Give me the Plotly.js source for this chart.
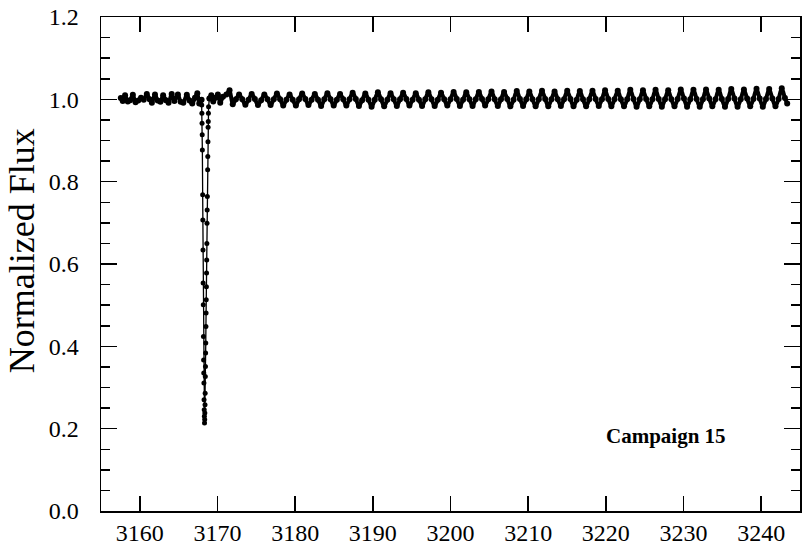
<!DOCTYPE html>
<html>
<head>
<meta charset="utf-8">
<script src="https://cdn.plot.ly/plotly-3.0.1.min.js"></script>
<style>html,body{margin:0;padding:0;background:#fff;}#chart{width:806px;height:546px;}</style>
</head>
<body>
<div id="chart"></div>
<script>
// Pre-eclipse segment (days) and normalized flux
const preTime = [3157.55,3157.80,3158.10,3158.45,3158.75,3159.10,3159.45,3159.80,3160.15,3160.50,3160.90,3161.25,3161.55,3161.95,3162.30,3162.65,3163.00,3163.35,3163.70,3164.10,3164.45,3164.90,3165.25,3165.60,3166.05,3166.40,3166.75,3167.10,3167.40,3167.65,3167.85,3167.95];
const preFlux = [1.003,0.996,1.010,0.995,0.998,1.011,0.993,0.997,1.004,0.999,1.013,1.000,0.992,1.012,0.997,0.994,1.010,0.998,0.992,1.013,0.996,1.012,0.994,0.992,1.011,0.997,0.990,1.004,1.015,0.990,0.998,0.999];

// Eclipse
const dipTime = [3167.97,3167.99,3168.01,3168.03,3168.05,3168.09,3168.11,3168.13,3168.15,3168.17,3168.19,3168.21,3168.23,3168.25,3168.27,3168.29,3168.31,3168.33,3168.35,3168.37,3168.39,3168.41,3168.43,3168.45,3168.47,3168.49,3168.51,3168.53,3168.55,3168.57,3168.59,3168.61,3168.63,3168.65,3168.67,3168.69,3168.73,3168.75,3168.77,3168.79,3168.81,3168.83,3168.85];
const dipFlux = [0.986,0.966,0.942,0.914,0.877,0.768,0.707,0.634,0.554,0.501,0.424,0.367,0.335,0.311,0.270,0.246,0.230,0.214,0.222,0.238,0.258,0.286,0.327,0.351,0.384,0.408,0.448,0.481,0.513,0.545,0.578,0.610,0.650,0.699,0.731,0.764,0.829,0.861,0.897,0.932,0.946,0.966,0.982];

// Post-eclipse segment
const postTime = [3168.95,3169.20,3169.45,3169.75,3170.05,3170.35,3170.70,
3171.15,3171.55,3171.96,3172.37,
3172.78,3173.19,3173.59,3174.00,
3174.40,3174.81,3175.21,3175.62,
3176.03,3176.44,3176.84,3177.25,
3177.65,3178.06,3178.46,3178.87,
3179.28,3179.69,3180.09,3180.50,
3180.90,3181.31,3181.71,3182.12,
3182.53,3182.94,3183.34,3183.75,
3184.15,3184.56,3184.96,3185.37,
3185.78,3186.19,3186.59,3187.00,
3187.40,3187.81,3188.21,3188.62,
3189.03,3189.44,3189.84,3190.25,
3190.65,3191.06,3191.46,3191.87,
3192.28,3192.69,3193.09,3193.50,
3193.90,3194.31,3194.71,3195.12,
3195.53,3195.94,3196.34,3196.75,
3197.15,3197.56,3197.96,3198.37,
3198.78,3199.19,3199.59,3200.00,
3200.40,3200.81,3201.21,3201.62,
3202.03,3202.44,3202.84,3203.25,
3203.65,3204.06,3204.46,3204.87,
3205.28,3205.69,3206.09,3206.50,
3206.90,3207.31,3207.71,3208.12,
3208.53,3208.94,3209.34,3209.75,
3210.15,3210.56,3210.96,3211.37,
3211.78,3212.19,3212.59,3213.00,
3213.40,3213.81,3214.21,3214.62,
3215.03,3215.44,3215.84,3216.25,
3216.65,3217.06,3217.46,3217.87,
3218.28,3218.69,3219.09,3219.50,
3219.90,3220.31,3220.71,3221.12,
3221.53,3221.94,3222.34,3222.75,
3223.15,3223.56,3223.96,3224.37,
3224.78,3225.19,3225.59,3226.00,
3226.40,3226.81,3227.21,3227.62,
3228.03,3228.44,3228.84,3229.25,
3229.65,3230.06,3230.46,3230.87,
3231.28,3231.69,3232.09,3232.50,
3232.90,3233.31,3233.71,3234.12,
3234.53,3234.94,3235.34,3235.75,
3236.15,3236.56,3236.96,3237.37,
3237.78,3238.19,3238.59,3239.00,
3239.40,3239.81,3240.21,3240.62,
3241.03,3241.44,3241.84,3242.25,
3242.65,3243.06,3243.35];
const postFlux = [1.002,1.010,0.995,1.004,1.012,0.992,1.006,
1.012,1.022,0.988,1.000,
1.012,1.000,0.987,0.999,
1.013,1.001,0.986,0.998,
1.012,1.000,0.986,1.000,
1.014,1.000,0.985,0.999,
1.012,0.999,0.985,1.000,
1.014,1.001,0.986,0.999,
1.013,0.999,0.984,1.000,
1.015,1.000,0.985,0.999,
1.013,1.000,0.985,1.000,
1.016,1.001,0.984,0.998,
1.014,0.999,0.982,0.999,
1.017,1.000,0.983,0.999,
1.015,1.000,0.984,1.000,
1.016,1.001,0.985,0.999,
1.015,0.999,0.984,1.000,
1.017,1.000,0.984,0.999,
1.016,1.000,0.985,1.000,
1.018,1.001,0.984,0.999,
1.017,1.000,0.984,1.000,
1.018,1.001,0.985,1.000,
1.019,1.000,0.984,1.000,
1.018,1.001,0.983,0.999,
1.020,1.001,0.984,1.000,
1.019,1.000,0.983,1.000,
1.021,1.001,0.983,1.000,
1.019,1.000,0.984,1.000,
1.021,1.001,0.983,0.999,
1.020,1.000,0.983,1.000,
1.021,1.001,0.984,1.000,
1.022,1.001,0.983,1.000,
1.021,1.000,0.983,1.000,
1.023,1.001,0.982,1.000,
1.022,1.001,0.983,1.000,
1.023,1.001,0.982,1.000,
1.022,1.000,0.983,1.001,
1.024,1.002,0.982,1.000,
1.023,1.001,0.982,1.000,
1.024,1.002,0.983,1.000,
1.023,1.001,0.982,1.001,
1.025,1.002,0.982,1.000,
1.024,1.002,0.983,1.001,
1.026,1.002,0.982,1.001,
1.025,1.002,0.983,1.001,
1.027,1.003,0.990];

const xTickVals = [3160,3170,3180,3190,3200,3210,3220,3230,3240];
const yTickVals = [0.0,0.2,0.4,0.6,0.8,1.0,1.2];
const yTitle = "Normalized Flux";
const label = "Campaign 15";

const font = "Liberation Serif";

// Dip trace joins to neighbouring segments
const dipT = [preTime[preTime.length - 1]].concat(dipTime, [postTime[0]]);
const dipF = [preFlux[preFlux.length - 1]].concat(dipFlux, [postFlux[0]]);

const thick = {color: '#000', width: 4, shape: 'spline', smoothing: 0.8};
const traces = [
  {x: preTime, y: preFlux, type: 'scatter', mode: 'lines+markers', line: thick,
   marker: {color: '#000', size: 6}, showlegend: false, hoverinfo: 'skip'},
  {x: dipT, y: dipF, type: 'scatter', mode: 'lines+markers',
   line: {color: '#000', width: 1.3},
   marker: {color: '#000', size: 5}, showlegend: false, hoverinfo: 'skip'},
  {x: postTime, y: postFlux, type: 'scatter', mode: 'lines+markers', line: thick,
   marker: {color: '#000', size: 6}, showlegend: false, hoverinfo: 'skip'}
];

Plotly.newPlot('chart', traces, {
  width: 806, height: 546,
  margin: {l: 101, r: 6, t: 17, b: 35},
  paper_bgcolor: '#fff', plot_bgcolor: '#fff',
  font: {family: font, color: '#000', size: 24},
  xaxis: {
    range: [3155, 3245], tickmode: 'array', tickvals: xTickVals,
    ticks: 'inside', ticklen: 15, tickwidth: 1.5, tickcolor: '#000',
    showline: true, linecolor: '#000', linewidth: 1.5, mirror: 'ticks',
    showgrid: false, zeroline: false, ticklabelstandoff: 0,
    tickfont: {family: font, size: 24, color: '#000'}
  },
  yaxis: {
    range: [0, 1.2], tickmode: 'array', tickvals: yTickVals, tickformat: '.1f',
    ticks: 'inside', ticklen: 16, tickwidth: 1.5, tickcolor: '#000',
    showline: true, linecolor: '#000', linewidth: 1.5, mirror: 'ticks',
    showgrid: false, zeroline: false, ticklabelstandoff: 16,
    minor: {dtick: 0.05, ticks: 'inside', ticklen: 9, tickwidth: 1.5, tickcolor: '#000', showgrid: false},
    tickfont: {family: font, size: 24, color: '#000'}
  },
  annotations: [{
    text: yTitle, xref: 'paper', yref: 'paper', textangle: -90,
    x: -0.1125, y: 0.5265, showarrow: false, xanchor: 'center', yanchor: 'middle',
    font: {family: font, size: 36, color: '#000'}
  }, {
    text: '<b>' + label + '</b>', xref: 'paper', yref: 'paper',
    x: 0.808, y: 0.151, showarrow: false, xanchor: 'center', yanchor: 'middle',
    font: {family: font, size: 21, color: '#000'}
  }]
}, {displayModeBar: false, staticPlot: true});
</script>
</body>
</html>
